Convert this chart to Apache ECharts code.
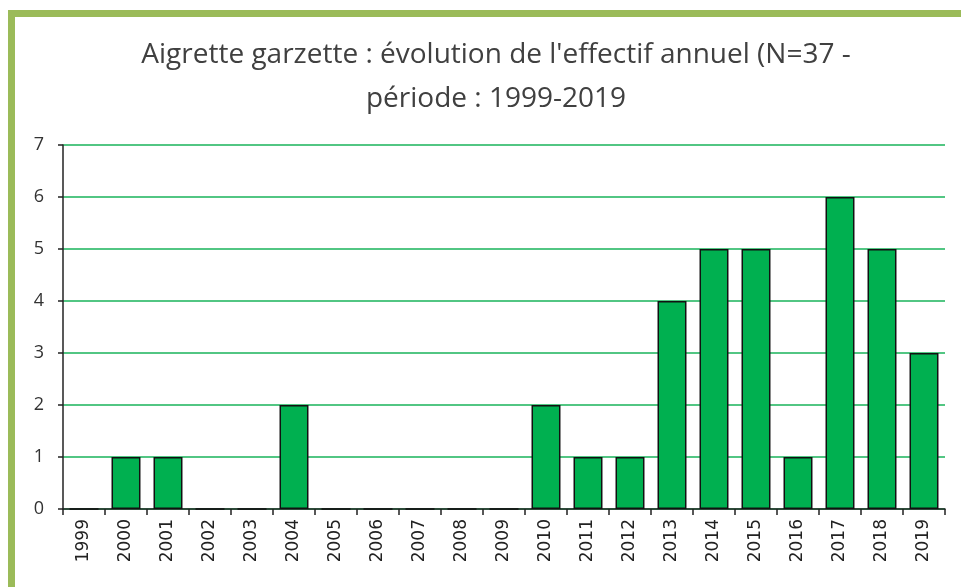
<!DOCTYPE html>
<html>
<head>
<meta charset="utf-8">
<script src="https://cdn.jsdelivr.net/npm/echarts@6/dist/echarts.min.js"></script>
<style>
html,body{margin:0;padding:0;background:#fff;}
#frame{position:absolute;left:8px;top:10px;width:960px;height:572px;border-left:7px solid #9BBB59;border-top:7px solid #9BBB59;border-bottom:2px solid #E6EDD8;}
#main{position:absolute;left:0;top:0;width:961px;height:587px;}
</style>
</head>
<body>
<div id="frame"></div>
<div id="main"></div>
<script>
// années et effectifs
var annees = ['1999','2000','2001','2002','2003','2004','2005','2006','2007','2008','2009','2010','2011','2012','2013','2014','2015','2016','2017','2018','2019'];
var effectifs = [0,1,1,0,0,2,0,0,0,0,0,2,1,1,4,5,5,1,6,5,3];
var titre = "Aigrette garzette : évolution de l'effectif annuel (N=37 -\npériode : 1999-2019";

var myChart = echarts.init(document.getElementById('main'));
myChart.setOption({
    animation: false,
    title: {
        text: titre,
        left: 491,
        textAlign: 'center',
        top: 28,
        textStyle: {
            color: '#404040',
            fontFamily: 'Open Sans',
            fontSize: 28,
            fontWeight: 'normal',
            lineHeight: 44
        }
    },
    grid: {
        left: 63,
        right: 16,
        top: 145,
        bottom: 78
    },
    xAxis: {
        type: 'category',
        data: annees,
        axisLine: {
            lineStyle: {color: '#222', width: 1.5}
        },
        axisTick: {
            show: true,
            length: 6,
            lineStyle: {color: '#222', width: 1.5}
        },
        axisLabel: {
            rotate: 90,
            interval: 0,
            color: '#222',
            fontSize: 17,
            fontFamily: 'DejaVu Sans',
            margin: 10
        }
    },
    yAxis: {
        type: 'value',
        min: 0,
        max: 7,
        interval: 1,
        axisLine: {
            show: true,
            lineStyle: {color: '#222', width: 1.5}
        },
        axisTick: {
            show: true,
            length: 5,
            lineStyle: {color: '#222', width: 1.5}
        },
        axisLabel: {
            color: '#333',
            fontSize: 18,
            fontFamily: 'Open Sans',
            margin: 19
        },
        splitLine: {
            lineStyle: {color: '#19B35A', width: 1.5}
        }
    },
    series: [{
        type: 'bar',
        data: effectifs,
        barWidth: '69%',
        itemStyle: {
            color: '#00B050',
            borderColor: '#111',
            borderWidth: 1.5
        }
    }]
});
</script>
</body>
</html>
